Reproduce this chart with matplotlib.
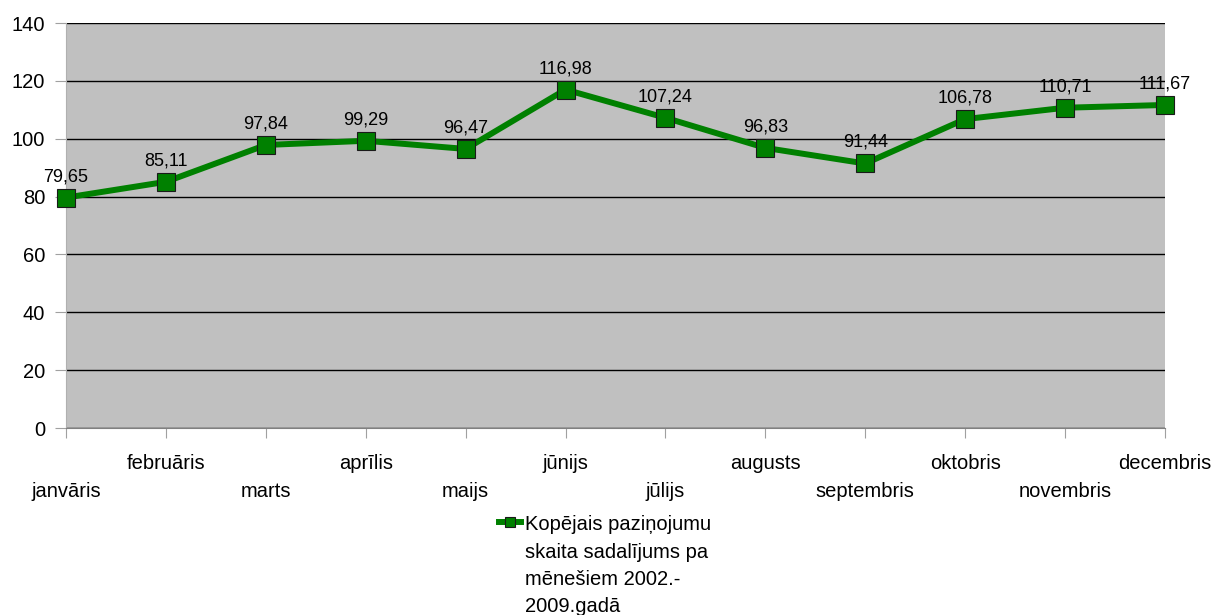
import matplotlib
matplotlib.use('Agg')
import matplotlib.pyplot as plt

plt.rcParams['font.family'] = ['Liberation Sans', 'DejaVu Sans']

months = ['janvāris', 'februāris', 'marts', 'aprīlis', 'maijs', 'jūnijs',
          'jūlijs', 'augusts', 'septembris', 'oktobris', 'novembris', 'decembris']
values = [79.65, 85.11, 97.84, 99.29, 96.47, 116.98,
          107.24, 96.83, 91.44, 106.78, 110.71, 111.67]
series_name = 'Kopējais paziņojumu\nskaita sadalījums pa\nmēnešiem 2002.-\n2009.gadā'

fig = plt.figure(figsize=(12.16, 6.15), dpi=100)
ax = fig.add_axes([0.0543, 0.304, 0.9037, 0.6586])
ax.set_facecolor('#c0c0c0')

x = list(range(len(months)))
ax.plot(x, values, color='#008000', lw=4.3, marker='s', markersize=13,
        markerfacecolor='#008000', markeredgecolor='#1a1a1a', markeredgewidth=0.8,
        label=series_name, zorder=3, clip_on=False)

# data labels above each point, comma decimal separator
for xi, v in zip(x, values):
    ax.annotate(f'{v:.2f}'.replace('.', ','), (xi, v), xytext=(0, 9),
                textcoords='offset points', ha='center', va='bottom', fontsize=13)

ax.set_xlim(0, 11)
ax.set_ylim(0, 140)
ax.set_yticks(range(0, 141, 20))
ax.yaxis.grid(True, color='black', lw=1)
ax.set_axisbelow(True)

# month labels staggered on two rows
ax.set_xticks(x)
ax.set_xticklabels(months, fontsize=14.5)
for i, t in enumerate(ax.xaxis.get_major_ticks()):
    t.set_pad(12 if i % 2 else 31.5)

ax.tick_params(axis='y', labelsize=14.5, length=8, color='#a0a0a0', pad=7)
ax.tick_params(axis='x', length=7, color='#a0a0a0')
for s in ['top', 'right']:
    ax.spines[s].set_visible(False)
ax.spines['left'].set_color('#b0b0b0')
ax.spines['bottom'].set_color('#808080')

leg = ax.legend(loc='upper left', bbox_to_anchor=(0.4105, 0.162), bbox_transform=fig.transFigure,
                frameon=False, fontsize=14.5, handlelength=1.1, handletextpad=0.2,
                borderaxespad=0, borderpad=0, markerscale=0.55)
for t in leg.get_texts():
    t.set_linespacing(1.55)
# put the legend handle next to the first text line
for col in leg._legend_handle_box.get_children():
    for item in col.get_children():
        item.align = 'top'

fig.savefig('out.png', dpi=100)
